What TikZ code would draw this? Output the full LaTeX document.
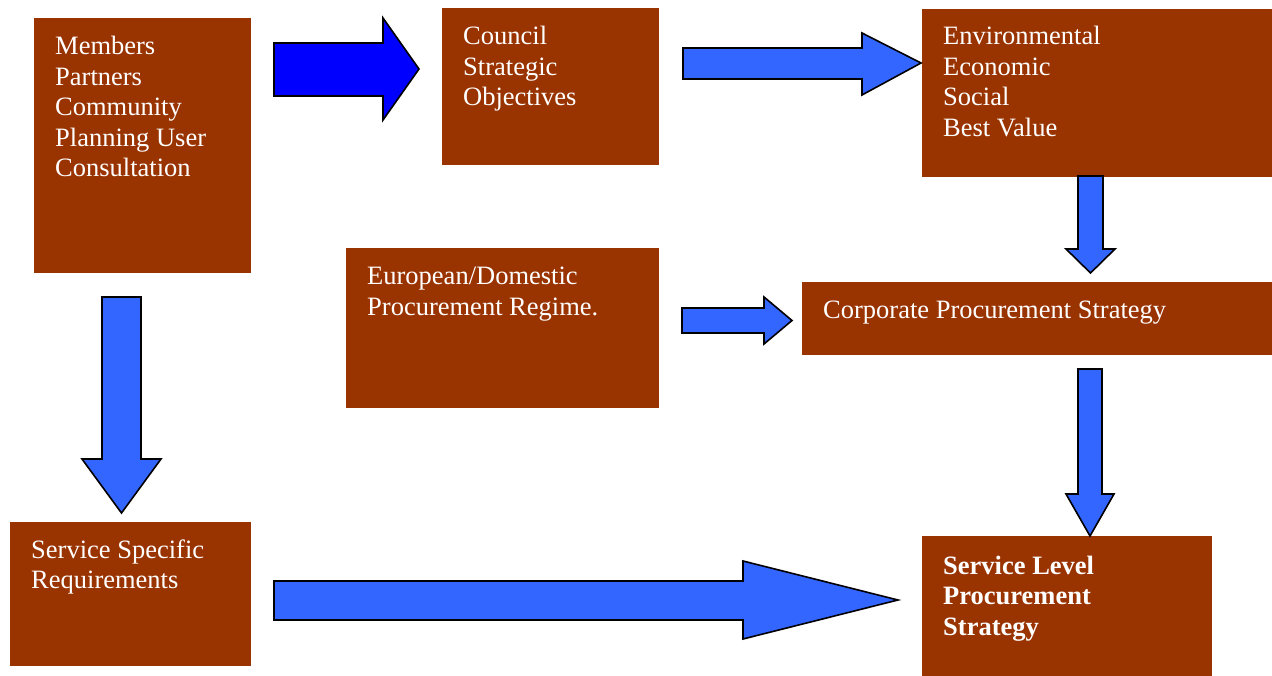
\documentclass[tikz,border=0pt]{standalone}
\usepackage{fontspec}
\setmainfont{Liberation Serif}
\definecolor{boxbrown}{HTML}{993300}
\definecolor{arrowblue}{HTML}{3366FF}
\definecolor{deepblue}{HTML}{0000FF}
\begin{document}
\begin{tikzpicture}[x=1pt,y=-1pt,
  panel/.style={fill=boxbrown,draw=none,inner sep=0pt,outer sep=0pt,anchor=north west},
  label/.style={text=white,inner sep=0pt,anchor=base west,font=\fontsize{26.5}{30.5}\selectfont},
  blockarrow/.style={fill=arrowblue,draw=black,line width=1.6pt,line join=miter},
  darkarrow/.style={blockarrow,fill=deepblue}]
\useasboundingbox (0,0) rectangle (1272,676);

% boxes
\node[panel,minimum width=217pt,minimum height=255pt] (members) at (34,18) {};
\node[panel,minimum width=217pt,minimum height=157pt] (council) at (442,8) {};
\node[panel,minimum width=350pt,minimum height=168pt] (values) at (922,9) {};
\node[panel,minimum width=313pt,minimum height=160pt] (regime) at (346,248) {};
\node[panel,minimum width=470pt,minimum height=73pt] (corporate) at (802,282) {};
\node[panel,minimum width=241pt,minimum height=144pt] (specific) at (10,522) {};
\node[panel,minimum width=290pt,minimum height=140pt] (servicelevel) at (922,536) {};

% box texts
\node[label] (memberstext) at ([shift={(21,37)}]members.north west)
  {\begin{tabular}[t]{@{}l@{}}Members\\Partners\\Community\\Planning User\\Consultation\end{tabular}};
\node[label] (counciltext) at ([shift={(21,37)}]council.north west)
  {\begin{tabular}[t]{@{}l@{}}Council\\Strategic\\Objectives\end{tabular}};
\node[label] (valuestext) at ([shift={(21,36)}]values.north west)
  {\begin{tabular}[t]{@{}l@{}}Environmental\\Economic\\Social\\Best Value\end{tabular}};
\node[label] (regimetext) at ([shift={(21,37)}]regime.north west)
  {\begin{tabular}[t]{@{}l@{}}European/Domestic\\Procurement Regime.\end{tabular}};
\node[label] (corporatetext) at ([shift={(21,37)}]corporate.north west)
  {Corporate Procurement Strategy};
\node[label] (specifictext) at ([shift={(21,36)}]specific.north west)
  {\begin{tabular}[t]{@{}l@{}}Service Specific\\Requirements\end{tabular}};
\node[label,font=\fontsize{26.5}{30.5}\selectfont\bfseries] (servicetext) at ([shift={(21,38)}]servicelevel.north west)
  {\begin{tabular}[t]{@{}l@{}}Service Level\\Procurement\\Strategy\end{tabular}};

% block arrows
\draw[darkarrow] (274,43) -- (383,43) -- (383,18) -- (419,69) -- (383,120) -- (383,96) -- (274,96) -- cycle;
\draw[blockarrow] (683,48) -- (862,48) -- (862,33) -- (921,63) -- (862,95) -- (862,79) -- (683,79) -- cycle;
\draw[blockarrow] (1078,176) -- (1103,176) -- (1103,249) -- (1115,249) -- (1090.5,273) -- (1066,249) -- (1078,249) -- cycle;
\draw[blockarrow] (682,308) -- (764,308) -- (764,297) -- (792,320.5) -- (764,344) -- (764,333) -- (682,333) -- cycle;
\draw[blockarrow] (1078,369) -- (1102,369) -- (1102,494) -- (1114,494) -- (1090,536) -- (1066,494) -- (1078,494) -- cycle;
\draw[blockarrow] (102,297) -- (141,297) -- (141,459) -- (161,459) -- (121.5,513) -- (82,459) -- (102,459) -- cycle;
\draw[blockarrow] (274,581) -- (743,581) -- (743,561) -- (898,600) -- (743,639) -- (743,620) -- (274,620) -- cycle;
\end{tikzpicture}
\end{document}
